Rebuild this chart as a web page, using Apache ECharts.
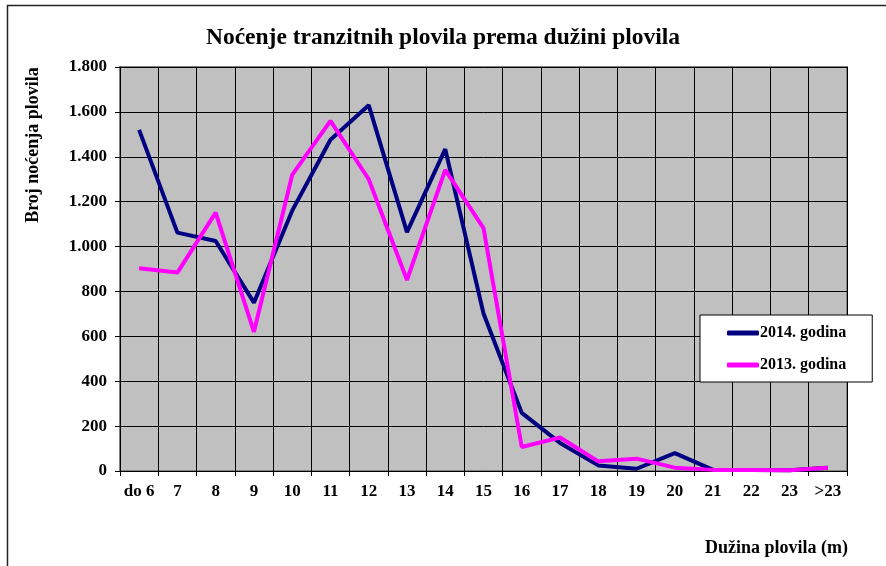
<!DOCTYPE html>
<html>
<head>
<meta charset="utf-8">
<script src="https://cdn.jsdelivr.net/npm/echarts@6/dist/echarts.min.js"></script>
<style>
  html, body { margin: 0; padding: 0; background: #fff; }
  #chart { width: 886px; height: 566px; }
</style>
</head>
<body>
<div id="chart"></div>
<script>
// Vessel length classes (m)
const categories = ['do 6', '7', '8', '9', '10', '11', '12', '13', '14', '15', '16', '17', '18', '19', '20', '21', '22', '23', '>23'];

// Overnight stays per length class
const values2014 = [1520, 1062, 1025, 750, 1160, 1476, 1630, 1064, 1434, 702, 259, 125, 25, 10, 80, 5, 5, 3, 15];
const values2013 = [903, 884, 1151, 620, 1319, 1560, 1300, 851, 1342, 1082, 107, 149, 43, 55, 15, 5, 5, 3, 15];

const yTicks = { min: 0, max: 1800, interval: 200 };

const serif = '"Liberation Serif", "Times New Roman", serif';

function thousands(v) {
  return String(v).replace(/\B(?=(\d{3})+(?!\d))/g, '.');
}

const chart = echarts.init(document.getElementById('chart'), null, { renderer: 'canvas' });

chart.setOption({
  backgroundColor: '#ffffff',
  animation: false,
  title: {
    text: 'Noćenje tranzitnih plovila prema dužini plovila',
    left: 'center',
    top: 21,
    textStyle: { fontFamily: serif, fontWeight: 'bold', fontSize: 23.5, color: '#000' }
  },
  grid: {
    left: 120,
    top: 67,
    width: 727,
    height: 404,
    show: true,
    backgroundColor: '#c0c0c0',
    borderColor: '#808080',
    borderWidth: 2
  },
  legend: {
    orient: 'vertical',
    left: 700,
    top: 315,
    padding: [9, 26, 8, 27],
    itemGap: 14,
    itemWidth: 32,
    itemHeight: 5,
    icon: 'roundRect',
    backgroundColor: '#ffffff',
    borderColor: '#000000',
    borderWidth: 1,
    textStyle: { fontFamily: serif, fontWeight: 'bold', fontSize: 16, color: '#000', padding: [0, 0, 0, -4], lineHeight: 18 },
    data: ['2014. godina', '2013. godina']
  },
  xAxis: {
    type: 'category',
    data: categories,
    boundaryGap: true,
    axisLine: { show: true, lineStyle: { color: '#000', width: 1 } },
    axisTick: { show: true, alignWithLabel: false, interval: 0, length: 5, lineStyle: { color: '#000' } },
    axisLabel: { interval: 0, margin: 12, fontFamily: serif, fontWeight: 'bold', fontSize: 17, color: '#000' },
    splitLine: { show: true, interval: 0, lineStyle: { color: '#000', width: 1 } }
  },
  yAxis: {
    type: 'value',
    min: yTicks.min,
    max: yTicks.max,
    interval: yTicks.interval,
    axisLine: { show: true, lineStyle: { color: '#000', width: 1 } },
    axisTick: { show: true, length: 5, lineStyle: { color: '#000' } },
    axisLabel: { margin: 13, formatter: thousands, fontFamily: serif, fontWeight: 'bold', fontSize: 17, color: '#000' },
    splitLine: { show: true, lineStyle: { color: '#000', width: 1 } }
  },
  series: [
    {
      name: '2014. godina',
      type: 'line',
      data: values2014,
      symbol: 'none',
      lineStyle: { color: '#000080', width: 4 },
      itemStyle: { color: '#000080' },
      z: 3
    },
    {
      name: '2013. godina',
      type: 'line',
      data: values2013,
      symbol: 'none',
      lineStyle: { color: '#ff00ff', width: 4 },
      itemStyle: { color: '#ff00ff' },
      z: 4
    }
  ],
  graphic: [
    {
      type: 'rect',
      shape: { x: 7.5, y: 5.5, width: 900, height: 600 },
      style: { fill: 'none', stroke: '#222', lineWidth: 1.5 },
      silent: true
    },
    {
      type: 'text',
      x: 33,
      y: 145,
      rotation: Math.PI / 2,
      style: {
        text: 'Broj noćenja plovila',
        font: 'bold 18px ' + serif,
        fill: '#000',
        align: 'center',
        verticalAlign: 'middle'
      }
    },
    {
      type: 'text',
      x: 848,
      y: 548,
      style: {
        text: 'Dužina plovila (m)',
        font: 'bold 18px ' + serif,
        fill: '#000',
        align: 'right',
        verticalAlign: 'middle'
      }
    }
  ]
});
</script>
</body>
</html>
